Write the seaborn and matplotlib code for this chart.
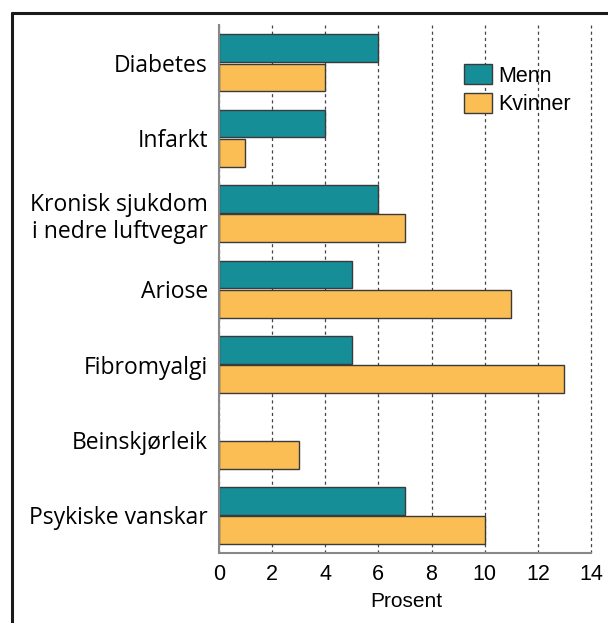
import numpy as np
import pandas as pd
import matplotlib
matplotlib.use("Agg")
import matplotlib.pyplot as plt
import seaborn as sns
from matplotlib.lines import Line2D
from matplotlib.patches import Patch

categories = ["Diabetes", "Infarkt", "Kronisk sjukdom\ni nedre luftvegar", "Ariose",
              "Fibromyalgi", "Beinskjørleik", "Psykiske vanskar"]
menn = [6, 4, 6, 5, 5, 0, 7]
kvinner = [4, 1, 7, 11, 13, 3, 10]
groups = ["Menn", "Kvinner"]
colors = ["#168E98", "#FBBE55"]

df = pd.DataFrame({
    "kat": categories * 2,
    "verdi": menn + kvinner,
    "kjonn": ["Menn"] * len(categories) + ["Kvinner"] * len(categories),
})

sns.set_style("white")
plt.rcParams["font.family"] = ["Open Sans", "DejaVu Sans"]
plt.rcParams["text.color"] = "black"
plt.rcParams["xtick.color"] = "black"
plt.rcParams["ytick.color"] = "black"
plt.rcParams["axes.labelcolor"] = "black"

fig = plt.figure(figsize=(6.08, 6.23), dpi=100)
# x: 0 -> px 219, 14 -> px 591 ; xlim a bit past 14 so the last gridline is not clipped
ax = fig.add_axes([0.360, 0.112, 0.612 * 14.1 / 14, 0.848])

sns.barplot(data=df, y="kat", x="verdi", hue="kjonn", hue_order=groups,
            palette=colors, saturation=1, orient="h", width=0.78, gap=0.06,
            edgecolor="#3a3a3a", linewidth=1.0, legend=False, ax=ax)

for p in ax.patches:
    if p.get_width() == 0:
        p.set_visible(False)

ax.set_xlim(0, 14.1)
ax.set_xticks(range(0, 15, 2))
ax.xaxis.grid(True, linestyle=(0, (2.5, 2.5)), color="#444444", linewidth=0.9)
ax.set_axisbelow(True)
for s in ["top", "right"]:
    ax.spines[s].set_visible(False)
ax.spines["bottom"].set_bounds(0, 14)
for s in ["left", "bottom"]:
    ax.spines[s].set_color("#888888")
    ax.spines[s].set_linewidth(1.5)
ax.tick_params(axis="x", direction="in", length=4, color="#333333", pad=8)
ax.tick_params(axis="y", length=0, labelsize=16.5, pad=8)
for t in ax.get_xticklabels():
    t.set_fontfamily("Liberation Sans")
    t.set_fontsize(15.5)
ax.set_ylabel("")
ax.set_xlabel("Prosent", fontsize=15, family="Liberation Sans", labelpad=5)

handles = [Patch(facecolor=c, edgecolor="#3a3a3a", linewidth=1.0, label=g)
           for g, c in zip(groups, colors)]
ax.legend(handles=handles, loc="upper right", bbox_to_anchor=(0.975, 0.95), frameon=False,
          prop={"family": "Liberation Sans", "size": 15.5},
          handlelength=1.3, handleheight=1.05,
          handletextpad=0.3, labelspacing=0.3, borderaxespad=0.2)

# outer frame (top and left only)
fig.add_artist(Line2D([0.0197, 1.0], [0.979, 0.979], color="#1a1a1a", linewidth=2.2,
                      transform=fig.transFigure))
fig.add_artist(Line2D([0.0197, 0.0197], [0.0, 0.979], color="#1a1a1a", linewidth=2.2,
                      transform=fig.transFigure))

fig.savefig("out.png", dpi=100)
